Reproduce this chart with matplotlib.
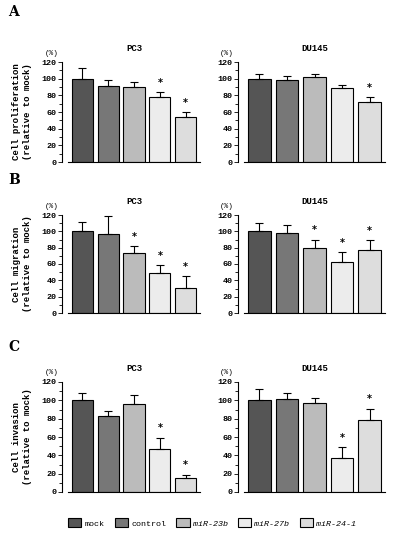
import matplotlib
matplotlib.use("Agg")
import matplotlib.pyplot as plt
from matplotlib.patches import Patch

groups = ["mock", "control", "miR-23b", "miR-27b", "miR-24-1"]
colors = ["#555555", "#777777", "#bbbbbb", "#ececec", "#dddddd"]
cells = ["PC3", "DU145"]
ylabels = ["Cell proliferation\n(relative to mock)", "Cell migration\n(relative to mock)", "Cell invasion\n(relative to mock)"]
letters = ["A", "B", "C"]
values = [
    [[100, 91, 90, 78, 54], [100, 98, 102, 89, 72]],
    [[100, 97, 73, 49, 31], [100, 98, 80, 63, 77]],
    [[100, 83, 96, 47, 15], [100, 102, 97, 37, 79]],
]
errors = [
    [[13, 7, 6, 6, 6], [6, 5, 4, 3, 6]],
    [[12, 22, 9, 10, 14], [10, 10, 10, 12, 12]],
    [[8, 5, 10, 12, 4], [12, 6, 6, 12, 12]],
]
stars = [
    [[3, 4], [4]],
    [[2, 3, 4], [2, 3, 4]],
    [[3, 4], [3, 4]],
]

W, H = 400, 535
fig = plt.figure(figsize=(W/100, H/100), dpi=100)
mono = "Liberation Mono"
rows = [(62, 162), (215, 313), (382, 492)]
cols = [(68, 200), (244, 385)]
for r in range(3):
    t, b = rows[r]
    fig.text(8/W, 1-(t-50 if r==0 else t-35)/H, letters[r], fontsize=10, fontweight="bold", family="DejaVu Serif", va="center")
    for c in range(2):
        l, rr = cols[c]
        ax = fig.add_axes([l/W, 1-b/H, (rr-l)/W, (b-t)/H])
        x = range(5)
        ax.bar(x, values[r][c], width=0.82, color=colors, edgecolor="black", linewidth=0.8,
               yerr=[[0]*5, errors[r][c]], error_kw=dict(ecolor="black", elinewidth=0.8, capsize=3, capthick=0.8))
        for s in stars[r][c]:
            ax.text(s, values[r][c][s] + errors[r][c][s] + 5, "*", ha="center", va="bottom", fontsize=7, fontweight="bold")
        ax.set_ylim(0, 120)
        ax.set_xlim(-0.55, 4.55)
        ax.set_yticks(range(0, 121, 20))
        ax.set_yticks(range(0, 121, 10), minor=True)
        ax.set_xticks([])
        for sp in ["top", "right"]:
            ax.spines[sp].set_visible(False)
        ax.spines["left"].set_position(("outward", 4))
        ax.tick_params(axis="y", labelsize=6, length=3, width=0.6, pad=1)
        ax.tick_params(axis="y", which="minor", length=2, width=0.6)
        for lab in ax.get_yticklabels():
            lab.set_family(mono)
            lab.set_fontweight("bold")
        ax.set_title(cells[c], fontsize=6.5, family=mono, fontweight="bold", pad=8)
        ax.text(-0.12, 1.07, "(%)", transform=ax.transAxes, fontsize=5.5, family=mono, ha="center")
    fig.text(22/W, 1-((t+b)/2)/H, ylabels[r], rotation=90, fontsize=6.5, family=mono, fontweight="bold", ha="center", va="center")

handles = [Patch(facecolor=colors[i], edgecolor="black", linewidth=0.8) for i in range(5)]
leg = fig.legend(handles, groups, loc="center", bbox_to_anchor=(0.53, 1-523/H),
                 ncol=5, frameon=False, handlelength=1.6, handleheight=1.2, columnspacing=1.2, handletextpad=0.4,
                 prop={"family": mono, "size": 6})
for i, tx in enumerate(leg.get_texts()):
    if i >= 2:
        tx.set_style("italic")
fig.savefig("out.png", dpi=100)
